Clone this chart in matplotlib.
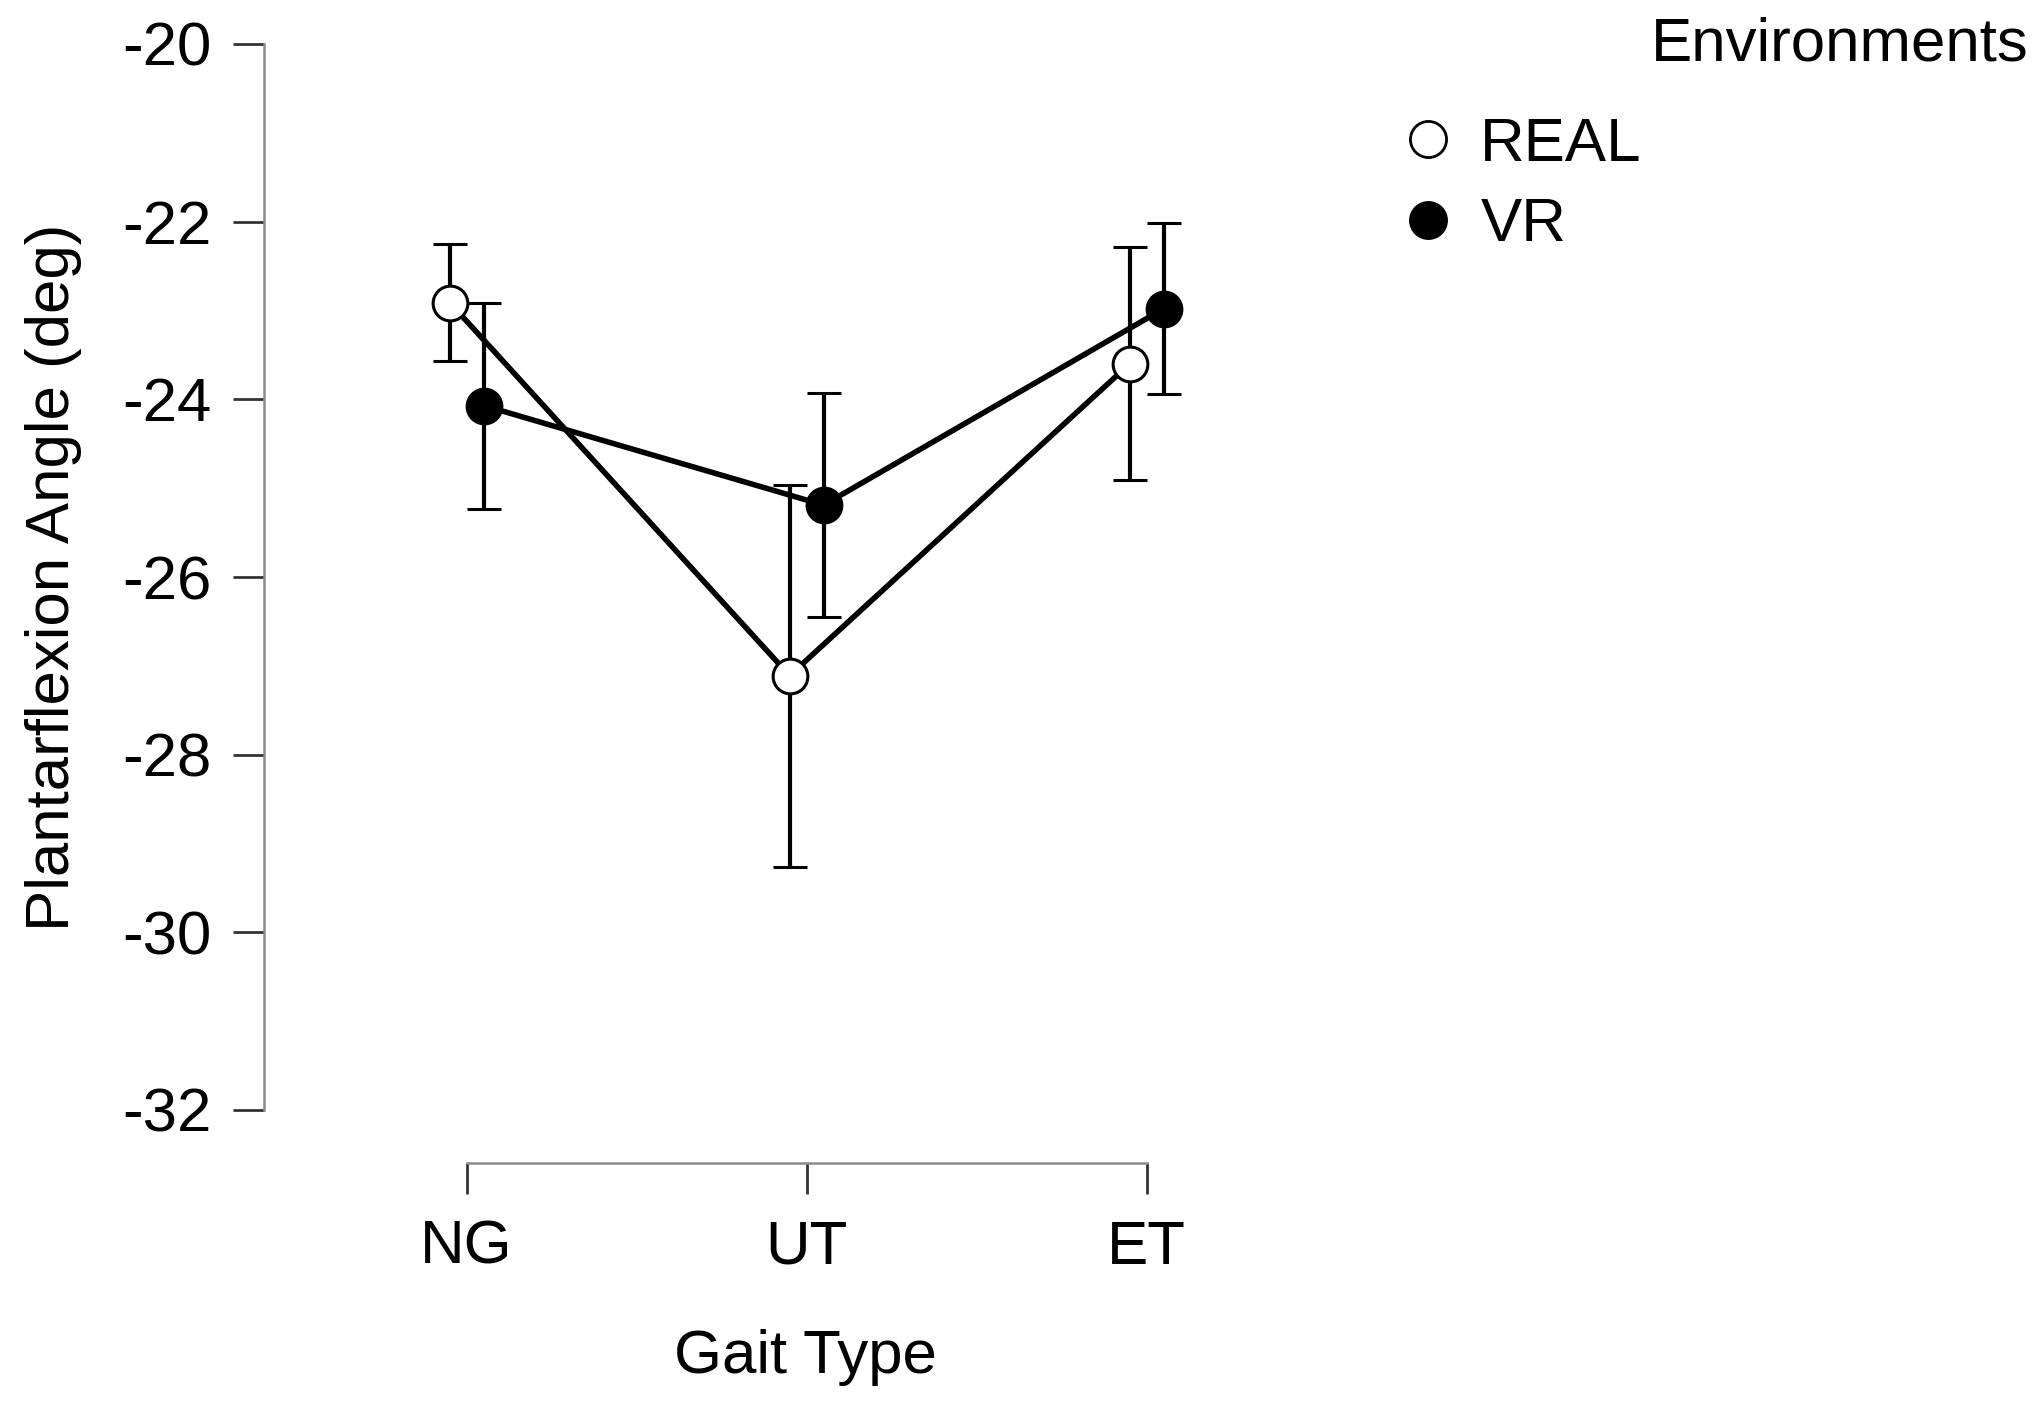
import matplotlib
matplotlib.use("Agg")
import matplotlib.pyplot as plt
from matplotlib.lines import Line2D
import numpy as np

plt.rcParams['font.family'] = ['Liberation Sans', 'DejaVu Sans']
plt.rcParams['axes.unicode_minus'] = False

# data
gait_types = ['NG', 'UT', 'ET']
real_mean = [-22.91, -27.11, -23.60]
real_err = [0.655, 2.15, 1.31]
vr_mean = [-24.07, -25.19, -22.98]
vr_err = [1.16, 1.265, 0.96]
y_ticks = [-20, -22, -24, -26, -28, -30, -32]

W, H = 2039, 1405
FS = 44.5
fig = plt.figure(figsize=(W / 100, H / 100), dpi=100)

# axes placed in pixel terms
left_px, top_px, bottom_px = 264.3, 44, 1110
x0_px, step_px = 466.7, 340.0
xmin, xmax = -0.595, 2.6
right_px = x0_px + xmax * step_px
ax = fig.add_axes([left_px / W, 1 - bottom_px / H,
                   (right_px - left_px) / W, (bottom_px - top_px) / H])

x = np.arange(len(gait_types))
dodge = 0.05

ax.errorbar(x - dodge, real_mean, yerr=real_err, color='black', lw=4,
            elinewidth=3, capsize=12.5, capthick=3, marker='o',
            markersize=25, markerfacecolor='white', markeredgecolor='black',
            markeredgewidth=2.2, zorder=3)
ax.errorbar(x + dodge, vr_mean, yerr=vr_err, color='black', lw=4,
            elinewidth=3, capsize=12.5, capthick=3, marker='o',
            markersize=25, markerfacecolor='black', markeredgecolor='black',
            markeredgewidth=2.2, zorder=3)

ax.set_xlim(xmin, xmax)
ax.set_ylim(-32, -20)
ax.set_yticks(y_ticks)
ax.set_yticklabels([str(v) for v in y_ticks])
ax.set_xticks(x)
ax.set_xticklabels(gait_types)

for s in ['top', 'right']:
    ax.spines[s].set_visible(False)
ax.spines['left'].set_bounds(-32, -20)
ax.spines['bottom'].set_bounds(0, 2)
ax.spines['bottom'].set_position(('outward', 38))
for s in ['left', 'bottom']:
    ax.spines[s].set_color('#8a8a8a')
    ax.spines[s].set_linewidth(1.8)

ax.tick_params(length=22, width=2, color='#333333', pad=16, labelsize=FS)
ax.tick_params(axis='x', pad=19)

fig.text(54 / W, 1 - 577 / H, 'Plantarflexion Angle (deg)', rotation=90,
         ha='center', va='center', fontsize=FS)
fig.text(805 / W, 1 - 1373 / H, 'Gait Type', ha='center', va='baseline',
         fontsize=FS)
fig.text(2029 / W, 1 - 45 / H, 'Environments', ha='right', va='center',
         fontsize=FS)

handles = [
    Line2D([], [], ls='none', marker='o', markersize=26, markerfacecolor='white',
           markeredgecolor='black', markeredgewidth=2),
    Line2D([], [], ls='none', marker='o', markersize=26, markerfacecolor='black',
           markeredgecolor='black', markeredgewidth=2),
]
fig.legend(handles, ['REAL', 'VR'], loc='upper left',
           bbox_to_anchor=(1400 / W, 1 - 117 / H), frameon=False,
           fontsize=FS, handlelength=0.9, handletextpad=0.4,
           borderpad=0, borderaxespad=0, labelspacing=0.38)

fig.savefig('out.png', dpi=100)
